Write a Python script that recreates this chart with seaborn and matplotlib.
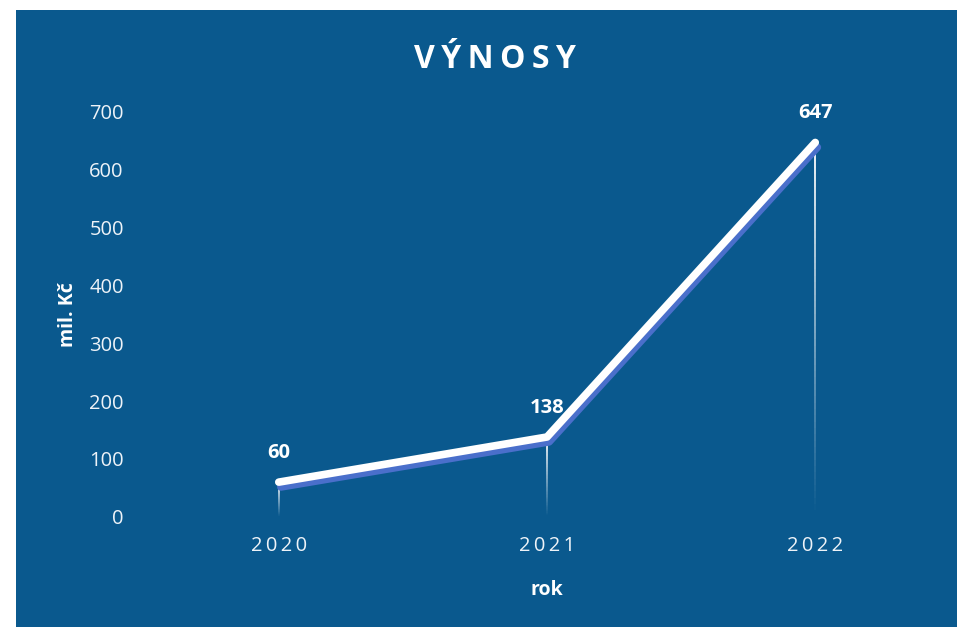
import matplotlib
matplotlib.use("Agg")
import matplotlib.pyplot as plt
import matplotlib.patheffects as pe
from matplotlib.collections import LineCollection
from matplotlib.patches import Rectangle
import numpy as np
import pandas as pd
import seaborn as sns

# data
years = [2020, 2021, 2022]
revenue = [60, 138, 647]
y_ticks = [0, 100, 200, 300, 400, 500, 600, 700]

title = "VÝNOSY"
x_label = "rok"
y_label = "mil. Kč"

BG = "#0A598E"
SHADOW = "#4A6FCB"

sns.set_style("white")
plt.rcParams["font.family"] = ["Open Sans", "DejaVu Sans"]

df = pd.DataFrame({"rok": years, "vynosy": revenue})

fig = plt.figure(figsize=(9.58, 6.28), dpi=100, facecolor="white")
fig.patches.append(Rectangle((16 / 958, 1 / 628), 941 / 958, 617 / 628,
                             transform=fig.transFigure, facecolor=BG,
                             edgecolor="none", zorder=-10))
ax = fig.add_axes([0.151, 0.177, 0.84, 0.645])
ax.set_facecolor("none")

# fading drop lines from each point down to the axis
for x, y in zip(df["rok"], df["vynosy"]):
    ys = np.linspace(y, 0, 60)
    segs = [[(x, ys[i]), (x, ys[i + 1])] for i in range(len(ys) - 1)]
    alphas = np.linspace(0.95, 0.0, len(segs))
    colors = [(1, 1, 1, a) for a in alphas]
    ax.add_collection(LineCollection(segs, colors=colors, linewidths=1.4, zorder=1))

sns.lineplot(data=df, x="rok", y="vynosy", ax=ax, color="white", linewidth=5.5,
             solid_capstyle="round", solid_joinstyle="round", zorder=3,
             path_effects=[pe.SimpleLineShadow(offset=(1.5, -3.5), shadow_color=SHADOW,
                                               alpha=1.0),
                           pe.Normal()])

for x, y in zip(df["rok"], df["vynosy"]):
    ax.annotate(str(y), (x, y), xytext=(0, 14), textcoords="offset points",
                ha="center", va="bottom", color="white", fontsize=14.5,
                fontweight="bold")

ax.set_xlim(2019.5, 2022.5)
ax.set_ylim(0, 700)
ax.set_yticks(y_ticks)
ax.set_xticks(years)
ax.set_xticklabels(["\u2009".join(str(y)) for y in years])
ax.tick_params(axis="both", colors="#EEF3F8", length=0, labelsize=14.5)
ax.tick_params(axis="y", pad=15)
ax.tick_params(axis="x", pad=14)
sns.despine(ax=ax, left=True, bottom=True)

ax.set_xlabel(x_label, color="white", fontsize=14, fontweight="bold", labelpad=17)
ax.set_ylabel(y_label, color="white", fontsize=14, fontweight="bold", labelpad=8)
fig.text(0.517, 0.905, "\u2009".join(title), ha="center", va="center", color="white",
         fontsize=23, fontweight="bold")

fig.savefig("out.png", dpi=100, facecolor="white")
